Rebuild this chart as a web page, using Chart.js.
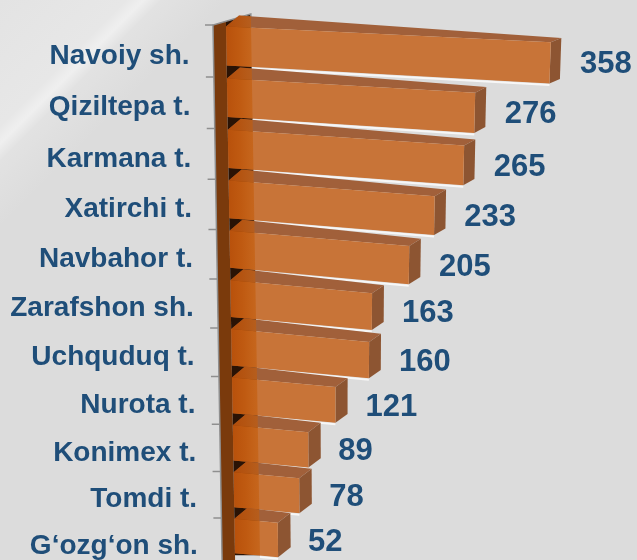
<!DOCTYPE html>
<html>
<head>
<meta charset="utf-8">
<script src="https://cdn.jsdelivr.net/npm/chart.js@4.4.0/dist/chart.umd.min.js"></script>
<style>
  html, body { margin: 0; padding: 0; }
  body {
    width: 637px;
    height: 560px;
    overflow: hidden;
    background: linear-gradient(135deg, #e3e3e3 0%, #e7e7e7 10.5%, #efefef 12%, #e2e2e2 13.5%, #dcdcdc 19%, #dcdcdc 100%);
  }
  canvas { display: block; }
</style>
</head>
<body>
<canvas id="chart" width="637" height="560"></canvas>
<script>
const districts = [
  "Navoiy sh.", "Qiziltepa t.", "Karmana t.", "Xatirchi t.", "Navbahor t.",
  "Zarafshon sh.", "Uchquduq t.", "Nurota t.", "Konimex t.", "Tomdi t.", "G‘ozg‘on sh."
];
const counts = [358, 276, 265, 233, 205, 163, 160, 121, 89, 78, 52];

const FONT = '"Liberation Sans", Arial, sans-serif';
const TEXT = "#1f4e79";

// rows get a little narrower further down the tilted front plane
function rowToY(top, u) {
  return top + 52.3 * u - 0.3 * u * u;
}

// flat chart pixel -> tilted view: rows squeeze, plane leans right,
// bars droop toward their ends
function project(chart, x, y, lift) {
  const a = chart.chartArea;
  const rowH = chart.scales.y.height / districts.length;
  const u = (y - a.top) / rowH;
  const y0 = rowToY(a.top, u) + (lift || 0);
  const d = y0 - a.top;
  const left = a.left + 0.017 * d;
  const px = left + (x - a.left) * (1 - 0.000164 * d);
  const s = 0.048 + 0.045 * Math.min(1, Math.max(0, d / 250));
  return { x: px, y: y0 + s * (px - left) };
}

function depth(px) {
  const t = Math.min(1, Math.max(0, (px - 226) / 324));
  return { dx: 13 - 2.5 * t, dy: -11 + 6.7 * t };
}

function shift(p, d) {
  return { x: p.x + d.dx, y: p.y + d.dy };
}

function trace(ctx, pts) {
  ctx.moveTo(pts[0].x, pts[0].y);
  for (let i = 1; i < pts.length; i++) ctx.lineTo(pts[i].x, pts[i].y);
  ctx.closePath();
}

function poly(ctx, pts, fill) {
  ctx.beginPath();
  trace(ctx, pts);
  ctx.fillStyle = fill;
  ctx.fill();
}

function wallEdge(chart, off, Y) {
  const a = chart.chartArea;
  return a.left + off + 0.017 * (Y - a.top);
}

function wallTop(chart, off) {
  return chart.chartArea.top - (off + 13) * 0.289;
}

function drawWall(chart, innerBottom) {
  const ctx = chart.ctx;
  const a = chart.chartArea;
  const bottom = chart.height;
  const pt = (off, Y) => ({ x: wallEdge(chart, off, Y), y: Y });

  // front of the side wall
  poly(ctx, [pt(-13, a.top), pt(0, wallTop(chart, 0)), pt(0, bottom), pt(-13, bottom)], "#7a3a0c");
  // inner side, mostly in the shadow of the bars
  poly(ctx, [pt(0, wallTop(chart, 0)), pt(25, wallTop(chart, 25)), pt(25, innerBottom), pt(0, innerBottom)], "#2a1305");

  ctx.save();
  ctx.strokeStyle = "#8f8f8f";
  ctx.lineWidth = 1.5;
  ctx.beginPath();
  ctx.moveTo(wallEdge(chart, -13, bottom), bottom);
  ctx.lineTo(wallEdge(chart, -13, a.top), a.top);
  ctx.lineTo(wallEdge(chart, 25, wallTop(chart, 25)), wallTop(chart, 25));
  ctx.lineTo(wallEdge(chart, 25, a.top + 8), a.top + 8);
  ctx.stroke();

  // tick marks on the row boundaries
  ctx.beginPath();
  for (let k = 0; k < districts.length; k++) {
    const Y = rowToY(a.top, k);
    const X = wallEdge(chart, -13, Y);
    ctx.moveTo(X - 8, Y);
    ctx.lineTo(X, Y);
  }
  ctx.stroke();
  ctx.restore();
}

function barCorners(chart, bar) {
  const { x, y, base, height } = bar.getProps(["x", "y", "base", "height"], true);
  const h = height / 2;
  return {
    tl: project(chart, base, y - h, -5),
    tr: project(chart, x, y - h, -5),
    br: project(chart, x, y + h, -5),
    bl: project(chart, base, y + h, -5)
  };
}

const bars3d = {
  id: "bars3d",
  beforeDatasetsDraw(chart) {
    const ctx = chart.ctx;
    const meta = chart.getDatasetMeta(0);
    const last = barCorners(chart, meta.data[meta.data.length - 1]);
    drawWall(chart, last.bl.y + 2);

    meta.data.forEach((bar) => {
      const { tl, tr, br, bl } = barCorners(chart, bar);
      const dl = depth(tl.x);
      const dr = depth(tr.x);

      const topFace = [tl, tr, shift(tr, dr), shift(tl, dl)];
      const endFace = [tr, shift(tr, dr), shift(br, dr), br];
      const front = [tl, tr, br, bl];

      poly(ctx, topFace, "#a1603a");
      poly(ctx, endFace, "#8d5532");
      poly(ctx, front, "#c87438");

      // light seam under each bar
      const xb = wallEdge(chart, 25, bl.y);
      const t = (xb - bl.x) / (br.x - bl.x);
      ctx.save();
      ctx.strokeStyle = "rgba(250, 250, 250, 0.9)";
      ctx.lineWidth = 2;
      ctx.beginPath();
      ctx.moveTo(xb, bl.y + t * (br.y - bl.y) + 1.5);
      ctx.lineTo(br.x, br.y + 1.5);
      ctx.stroke();
      ctx.restore();

      // the wall is see-through where the bars pass it
      ctx.save();
      ctx.beginPath();
      trace(ctx, topFace);
      trace(ctx, front);
      ctx.clip();
      const x0 = wallEdge(chart, 0, tl.y);
      const g = ctx.createLinearGradient(x0, 0, x0 + 25, 0);
      g.addColorStop(0, "rgba(180, 72, 0, 0.8)");
      g.addColorStop(0.5, "rgba(188, 80, 2, 0.72)");
      g.addColorStop(1, "rgba(196, 92, 10, 0.6)");
      const Y1 = tl.y - 14;
      const Y2 = bl.y + 2;
      poly(ctx, [
        { x: wallEdge(chart, 0, Y1), y: Y1 }, { x: wallEdge(chart, 25, Y1), y: Y1 },
        { x: wallEdge(chart, 25, Y2), y: Y2 }, { x: wallEdge(chart, 0, Y2), y: Y2 }
      ], g);
      ctx.restore();
    });
    return false;
  },
  afterDraw(chart) {
    const ctx = chart.ctx;
    const a = chart.chartArea;
    const yScale = chart.scales.y;
    ctx.save();
    ctx.fillStyle = TEXT;
    ctx.textBaseline = "middle";

    ctx.font = "bold 28px " + FONT;
    ctx.textAlign = "right";
    districts.forEach((name, i) => {
      const p = project(chart, a.left, yScale.getPixelForValue(i), 5);
      ctx.fillText(name, p.x - 37, p.y);
    });

    ctx.font = "bold 31px " + FONT;
    ctx.textAlign = "left";
    chart.getDatasetMeta(0).data.forEach((bar, i) => {
      const p = project(chart, bar.x, bar.y, -5);
      ctx.fillText(String(counts[i]), p.x + 30, p.y + 2);
    });
    ctx.restore();
  }
};

new Chart(document.getElementById("chart"), {
  type: "bar",
  data: {
    labels: districts,
    datasets: [{
      data: counts,
      backgroundColor: "#c87438",
      barPercentage: 0.75,
      categoryPercentage: 1
    }]
  },
  options: {
    indexAxis: "y",
    responsive: false,
    animation: false,
    devicePixelRatio: 1,
    layout: { padding: { left: 226, top: 25, right: 48, bottom: 7 } },
    plugins: {
      legend: { display: false },
      tooltip: { enabled: false }
    },
    scales: {
      x: { display: false, min: 0, max: 400 },
      y: { display: false }
    }
  },
  plugins: [bars3d]
});
</script>
</body>
</html>
